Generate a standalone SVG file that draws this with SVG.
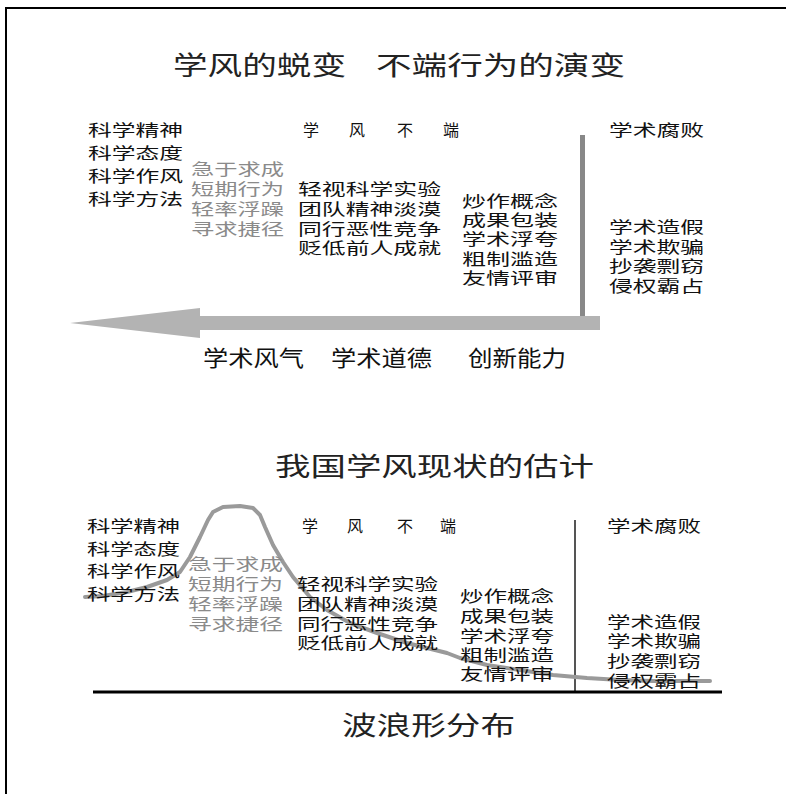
<svg xmlns="http://www.w3.org/2000/svg" width="786" height="794" viewBox="0 0 786 794">
<style>
text{font-family:"Noto Sans CJK SC","Noto Sans",sans-serif;fill:#111;}
.t{font-size:16px;}
.g{font-size:16px;fill:#8a8a8a;}
.h{font-size:26px;fill:#222;}
.m{font-size:22px;fill:#111;}
</style>
<rect width="786" height="794" fill="#fff"/>
<g id="frame" fill="none" stroke="#000" stroke-width="2">
<path d="M6,794 V8 H786"/>
</g>
<g id="connectors">
<polygon points="70,323 200,308 200,316 600,316 600,330 200,330 200,338" fill="#b3b3b3"/>
<rect x="580" y="135" width="5" height="181" fill="#888"/>
<line x1="575" y1="520" x2="575" y2="693" stroke="#555" stroke-width="2"/>
<line x1="93" y1="692" x2="722" y2="692" stroke="#000" stroke-width="3"/>
<polyline fill="none" stroke="#9a9a9a" stroke-width="4" stroke-linejoin="round" stroke-linecap="round" points="85,597 103,596 127,592 147,587 167,580 180,572 190,557 200,537 208,520 213,512 223,507 240,506 253,508 260,515 265,527 273,545 283,562 293,577 310,597 327,610 350,623 377,633 407,643 427,648 447,653 460,658 487,665 520,670 553,675 587,678 620,680 653,681 710,681"/>
</g>
<g id="title1">
<text class="h" x="173" y="75" textLength="173" lengthAdjust="spacingAndGlyphs">学风的蜕变</text>
<text class="h" x="376" y="75" textLength="249" lengthAdjust="spacingAndGlyphs">不端行为的演变</text>
</g>
<g id="top-left">
<text class="t" x="88" y="136" textLength="95" lengthAdjust="spacingAndGlyphs">科学精神</text>
<text class="t" x="88" y="159" textLength="95" lengthAdjust="spacingAndGlyphs">科学态度</text>
<text class="t" x="88" y="182" textLength="95" lengthAdjust="spacingAndGlyphs">科学作风</text>
<text class="t" x="88" y="205" textLength="95" lengthAdjust="spacingAndGlyphs">科学方法</text>
</g>
<g id="top-gray">
<text class="g" x="191" y="175" textLength="93" lengthAdjust="spacingAndGlyphs">急于求成</text>
<text class="g" x="191" y="195" textLength="93" lengthAdjust="spacingAndGlyphs">短期行为</text>
<text class="g" x="191" y="215" textLength="93" lengthAdjust="spacingAndGlyphs">轻率浮躁</text>
<text class="g" x="191" y="235" textLength="93" lengthAdjust="spacingAndGlyphs">寻求捷径</text>
</g>
<g id="top-header">
<text class="t" y="136"><tspan x="303">学</tspan><tspan x="349">风</tspan><tspan x="397">不</tspan><tspan x="443">端</tspan></text>
</g>
<g id="top-middle">
<text class="t" x="298" y="195" textLength="143" lengthAdjust="spacingAndGlyphs">轻视科学实验</text>
<text class="t" x="298" y="215" textLength="143" lengthAdjust="spacingAndGlyphs">团队精神淡漠</text>
<text class="t" x="298" y="235" textLength="143" lengthAdjust="spacingAndGlyphs">同行恶性竞争</text>
<text class="t" x="298" y="254" textLength="143" lengthAdjust="spacingAndGlyphs">贬低前人成就</text>
</g>
<g id="top-right-mid">
<text class="t" x="462" y="207" textLength="96" lengthAdjust="spacingAndGlyphs">炒作概念</text>
<text class="t" x="462" y="226" textLength="96" lengthAdjust="spacingAndGlyphs">成果包装</text>
<text class="t" x="462" y="245" textLength="96" lengthAdjust="spacingAndGlyphs">学术浮夸</text>
<text class="t" x="462" y="265" textLength="96" lengthAdjust="spacingAndGlyphs">粗制滥造</text>
<text class="t" x="462" y="284" textLength="96" lengthAdjust="spacingAndGlyphs">友情评审</text>
</g>
<g id="top-right">
<text class="t" x="609" y="136" textLength="95" lengthAdjust="spacingAndGlyphs">学术腐败</text>
<text class="t" x="609" y="233" textLength="95" lengthAdjust="spacingAndGlyphs">学术造假</text>
<text class="t" x="609" y="253" textLength="95" lengthAdjust="spacingAndGlyphs">学术欺骗</text>
<text class="t" x="609" y="272" textLength="95" lengthAdjust="spacingAndGlyphs">抄袭剽窃</text>
<text class="t" x="609" y="292" textLength="95" lengthAdjust="spacingAndGlyphs">侵权霸占</text>
</g>
<g id="arrow-labels">
<text class="m" x="203" y="366" textLength="101" lengthAdjust="spacingAndGlyphs">学术风气</text>
<text class="m" x="331" y="366" textLength="101" lengthAdjust="spacingAndGlyphs">学术道德</text>
<text class="m" x="468" y="366" textLength="98" lengthAdjust="spacingAndGlyphs">创新能力</text>
</g>
<g id="title2">
<text class="h" x="275" y="476" textLength="319" lengthAdjust="spacingAndGlyphs">我国学风现状的估计</text>
</g>
<g id="bottom-left">
<text class="t" x="87" y="532" textLength="93" lengthAdjust="spacingAndGlyphs">科学精神</text>
<text class="t" x="87" y="555" textLength="93" lengthAdjust="spacingAndGlyphs">科学态度</text>
<text class="t" x="87" y="577" textLength="93" lengthAdjust="spacingAndGlyphs">科学作风</text>
<text class="t" x="87" y="600" textLength="93" lengthAdjust="spacingAndGlyphs">科学方法</text>
</g>
<g id="bottom-gray">
<text class="g" x="188" y="570" textLength="95" lengthAdjust="spacingAndGlyphs">急于求成</text>
<text class="g" x="188" y="590" textLength="95" lengthAdjust="spacingAndGlyphs">短期行为</text>
<text class="g" x="188" y="610" textLength="95" lengthAdjust="spacingAndGlyphs">轻率浮躁</text>
<text class="g" x="188" y="630" textLength="95" lengthAdjust="spacingAndGlyphs">寻求捷径</text>
</g>
<g id="bottom-header">
<text class="t" y="532"><tspan x="302">学</tspan><tspan x="347">风</tspan><tspan x="397">不</tspan><tspan x="440">端</tspan></text>
</g>
<g id="bottom-middle">
<text class="t" x="297" y="590" textLength="141" lengthAdjust="spacingAndGlyphs">轻视科学实验</text>
<text class="t" x="297" y="610" textLength="141" lengthAdjust="spacingAndGlyphs">团队精神淡漠</text>
<text class="t" x="297" y="630" textLength="141" lengthAdjust="spacingAndGlyphs">同行恶性竞争</text>
<text class="t" x="297" y="649" textLength="141" lengthAdjust="spacingAndGlyphs">贬低前人成就</text>
</g>
<g id="bottom-right-mid">
<text class="t" x="460" y="602" textLength="94" lengthAdjust="spacingAndGlyphs">炒作概念</text>
<text class="t" x="460" y="622" textLength="94" lengthAdjust="spacingAndGlyphs">成果包装</text>
<text class="t" x="460" y="642" textLength="94" lengthAdjust="spacingAndGlyphs">学术浮夸</text>
<text class="t" x="460" y="661" textLength="94" lengthAdjust="spacingAndGlyphs">粗制滥造</text>
<text class="t" x="460" y="680" textLength="94" lengthAdjust="spacingAndGlyphs">友情评审</text>
</g>
<g id="bottom-right">
<text class="t" x="607" y="532" textLength="94" lengthAdjust="spacingAndGlyphs">学术腐败</text>
<text class="t" x="607" y="628" textLength="94" lengthAdjust="spacingAndGlyphs">学术造假</text>
<text class="t" x="607" y="647" textLength="94" lengthAdjust="spacingAndGlyphs">学术欺骗</text>
<text class="t" x="607" y="667" textLength="94" lengthAdjust="spacingAndGlyphs">抄袭剽窃</text>
<text class="t" x="607" y="687" textLength="94" lengthAdjust="spacingAndGlyphs">侵权霸占</text>
</g>
<g id="caption">
<text class="h" x="342" y="735" textLength="173" lengthAdjust="spacingAndGlyphs">波浪形分布</text>
</g>
</svg>
